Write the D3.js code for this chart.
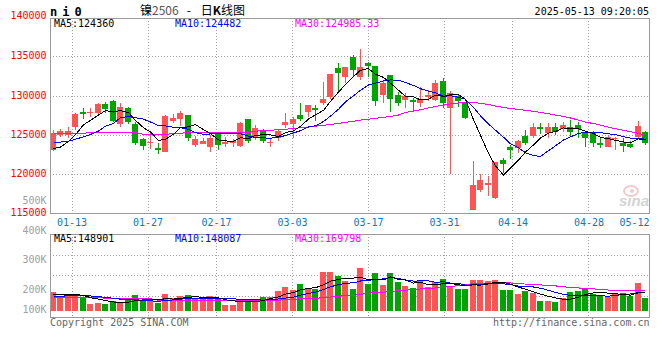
<!DOCTYPE html>
<html>
<head>
<meta charset="utf-8">
<script src="https://cdn.jsdelivr.net/npm/d3@7"></script>
<style>
body { margin: 0; background: #fff; }
text { font-family: "DejaVu Sans Mono", monospace; font-size: 10px; }
</style>
</head>
<body>
<div id="chart"></div>
<script>
var dates = ["01-08","01-09","01-10","01-13","01-14","01-15","01-16","01-17","01-20","01-21",
  "01-22","01-23","01-24","01-27","02-05","02-06","02-07","02-10","02-11","02-12",
  "02-13","02-14","02-17","02-18","02-19","02-20","02-21","02-24","02-25","02-26",
  "02-27","02-28","03-03","03-04","03-05","03-06","03-07","03-10","03-11","03-12",
  "03-13","03-14","03-17","03-18","03-19","03-20","03-21","03-24","03-25","03-26",
  "03-27","03-28","03-31","04-01","04-02","04-03","04-07","04-08","04-09","04-10",
  "04-11","04-14","04-15","04-16","04-17","04-18","04-21","04-22","04-23","04-24",
  "04-25","04-28","04-29","04-30","05-06","05-07","05-08","05-09","05-12","05-13"];

var open = [123100,125000,125000,126100,127930,127800,127800,128990,129410,126470,
  128520,126430,124550,123960,123400,122880,126810,127110,127580,123780,
  123870,123520,125150,123930,123960,123650,127070,124600,125660,123960,
  124600,126300,126390,127580,127970,128520,129080,129900,133560,132480,
  134940,132480,134200,133850,130140,132660,130140,129440,129500,129160,
  129890,129500,131970,128530,130010,129080,115420,117980,118620,116920,
  121820,123450,123320,124890,124890,126090,125320,126000,125750,126090,
  126300,125240,125440,123960,123530,124470,123960,123870,124730,125440];
var high = [125660,125790,126000,127800,128440,128440,129160,129210,129500,129100,
  128640,126650,124640,125240,123960,127600,127670,128090,127600,124900,
  124600,125020,125440,124800,124510,126720,127100,126300,125790,124550,
  125790,127880,127370,129100,128900,128860,131800,132800,134200,133700,
  135260,136030,134400,133850,131930,132700,130560,130360,129720,131130,
  130780,132060,132350,130650,130100,129280,121700,119990,119780,121530,
  122040,123740,124380,125660,126520,126520,126520,126520,126730,126940,
  126730,125440,125570,124800,125020,124720,124600,124300,126850,125500];
var low = [122980,124730,124640,125660,127070,127370,127700,127880,126700,126000,
  126400,123780,123100,123230,122550,122800,126600,126180,124290,123530,
  123830,122880,123100,123530,123450,123530,123960,124380,123960,123450,
  124290,125960,124700,126780,127370,126850,128860,129650,130650,131640,
  132480,132060,132480,128730,129080,127970,128780,128440,128090,128650,
  129410,129400,128440,119990,128650,127030,115420,117760,117210,116800,
  120110,121950,122680,123740,124600,125150,124630,125020,125440,124800,
  124600,123530,123530,123320,123450,123100,122880,123320,124600,123740];
var close = [125240,125530,125530,127710,127670,128000,128990,128350,126810,128600,
  126720,124000,123650,124120,123140,127490,127230,127800,124700,124550,
  124290,124640,123800,124090,124210,126600,124250,125880,124290,124170,
  125570,126730,127070,127070,128860,128260,129630,132800,133000,133700,
  133280,133700,133890,129410,131640,129630,129160,129950,129210,129590,
  130100,131720,129160,130430,129410,127240,118620,119260,118840,121530,
  121270,123100,124290,124040,126090,125750,126090,125440,126300,125440,
  125750,124600,124040,123740,124720,124600,123610,123530,126170,124040];

var volume = [157000,121000,121000,138000,110000,58000,66000,55000,82000,72000,
  88000,129000,88000,88000,66000,138000,110000,121000,129000,96000,
  96000,121000,102000,47000,47000,88000,88000,102000,115000,115000,
  165000,198000,171000,220000,185000,185000,321000,321000,286000,245000,
  185000,354000,220000,313000,212000,313000,236000,204000,187000,253000,
  195000,236000,261000,204000,179000,179000,252000,254000,251000,255000,
  171000,171000,138000,162000,146000,80000,80000,72000,105000,154000,
  162000,190000,138000,129000,113000,146000,146000,121000,228000,105000];

// sessions just before the first visible day (for the short moving averages)
var priorClose = [125200,124500,125100,124600,124970,124630,121980,123410,121270];
var priorVolume = [100000,110000,95000,108000,107000,120000,125000,150000,138000];

var ma30 = [125240,125240,125240,125240,125240,125370,125370,125370,125370,125370,
  125370,125370,125100,125100,125100,125100,125240,125240,125370,125370,
  125370,125400,125400,125400,125400,125340,125340,125520,125580,125640,
  125700,125770,125850,125950,126050,126160,126260,126380,126500,126650,
  126780,126930,127050,127170,127280,127400,127580,127900,128090,128260,
  128480,128670,128860,128990,129120,129180,129180,129080,128930,128730,
  128540,128410,128290,128180,128060,127900,127750,127580,127390,127200,
  126940,126680,126490,126300,126040,125830,125620,125440,125240,124985];
var volMa30 = [115000,115000,115000,115000,115000,115000,115000,102000,102000,102000,
  102000,102000,102000,102000,88000,88000,88000,88000,88000,88000,
  88000,88000,88000,88000,88000,88000,88000,88000,88000,88000,
  88000,96000,96000,102000,102000,102000,115000,115000,121000,129000,
  129000,138000,146000,155000,155000,162000,167000,172000,176000,182000,
  186000,190000,196000,202000,210000,218000,226000,228000,229000,230000,
  231000,231000,226000,222000,218000,215000,212000,207000,200000,194000,
  190000,186000,182000,178000,173000,170000,168000,166000,168000,170000];

var priceTicks = [140000,135000,130000,125000,120000,115000];
var priceGrid = [135000,130000,125000,120000];
var volTicks = [500000,400000,300000,200000,100000];
var volTickLabels = ["500K","400K","300K","200K","100K"];
var dateTicks = ["01-13","01-27","02-17","03-03","03-17","03-31","04-14","04-28","05-12"];
var priceLegend = ["MA5:124360","MA10:124482","MA30:124985.33"];
var volLegend = ["MA5:148901","MA10:148087","MA30:169798"];
var maColors = ["#000000","#0000ff","#ff00ff"];

var RED = "#ff5454", GREEN = "#00a400", GRID = "#a0a0a0", BORDER = "#999999";

var svg = d3.select("#chart").append("svg").attr("width", 660).attr("height", 360),
    left = 50, right = 649;

var x = d3.scaleBand().domain(dates).range([49, 649]);
var xt = d3.scalePoint().domain(dates).range([49.2, 649.8]);
var y = d3.scaleLinear().domain([115000, 140000]).range([213.5, 17.8]);
var vy = d3.scaleLinear().domain([0, 630000]).range([311, 234.6]);
var vLabel = d3.scaleLinear().domain([100000, 200000, 500000]).range([313, 293, 204]);

function cx(d) { return Math.round(x(d) + x.bandwidth() / 2); }
function px(v) { return Math.floor(v) + 0.5; }

function movingAvg(values, prior, n) {
  var all = prior.concat(values);
  return values.map(function(v, i) {
    var j = i + prior.length;
    return d3.mean(all.slice(j - n + 1, j + 1));
  });
}
var ma5 = movingAvg(close, priorClose, 5),
    ma10 = movingAvg(close, priorClose, 10),
    vma5 = movingAvg(volume, priorVolume, 5),
    vma10 = movingAvg(volume, priorVolume, 10);

var data = dates.map(function(d, i) {
  return {date: d, o: open[i], h: high[i], l: low[i], c: close[i], v: volume[i]};
});
function col(d) { return d.c >= d.o ? RED : GREEN; }

// ---- grids
var grid = svg.append("g").attr("stroke", GRID).attr("stroke-dasharray", "1,2")
    .attr("shape-rendering", "crispEdges");
grid.selectAll(".hp").data(priceGrid).enter().append("line")
    .attr("x1", left).attr("x2", right)
    .attr("y1", function(d) { return px(y(d)); })
    .attr("y2", function(d) { return px(y(d)); });
grid.selectAll(".hv").data([255, 275, 296]).enter().append("line")
    .attr("x1", left).attr("x2", right)
    .attr("y1", function(d) { return d + 0.5; })
    .attr("y2", function(d) { return d + 0.5; });
var vgrid = dateTicks.slice(0, -1);
grid.selectAll(".vp").data(vgrid).enter().append("line")
    .attr("x1", function(d) { return px(xt(d)); })
    .attr("x2", function(d) { return px(xt(d)); })
    .attr("y1", 18).attr("y2", 213);
grid.selectAll(".vv").data(vgrid).enter().append("line")
    .attr("x1", function(d) { return px(xt(d)); })
    .attr("x2", function(d) { return px(xt(d)); })
    .attr("y1", 234).attr("y2", 317);

// ---- candles
var cg = svg.append("g").attr("shape-rendering", "crispEdges");
cg.selectAll(".wick").data(data).enter().append("rect")
    .attr("x", function(d) { return cx(d.date); })
    .attr("width", 1)
    .attr("y", function(d) { return Math.round(y(d.h)); })
    .attr("height", function(d) { return Math.max(1, Math.round(y(d.l)) - Math.round(y(d.h))); })
    .attr("fill", col);
cg.selectAll(".body").data(data).enter().append("rect")
    .attr("x", function(d) { return cx(d.date) - 3; })
    .attr("width", 6)
    .attr("y", function(d) { return Math.round(y(Math.max(d.o, d.c))); })
    .attr("height", function(d) {
      return Math.max(1, Math.round(y(Math.min(d.o, d.c))) - Math.round(y(Math.max(d.o, d.c))));
    })
    .attr("fill", col);

// ---- volume bars
cg.selectAll(".vol").data(data).enter().append("rect")
    .attr("x", function(d) { return cx(d.date) - 3; })
    .attr("width", 6)
    .attr("y", function(d) { return Math.round(vy(d.v)); })
    .attr("height", function(d) { return 311 - Math.round(vy(d.v)); })
    .attr("fill", col);

// ---- moving average lines
function drawLine(values, scale, color) {
  var line = d3.line()
      .x(function(d, i) { return cx(dates[i]) + 0.5; })
      .y(function(d) { return scale(d); });
  svg.append("path").datum(values)
      .attr("d", line)
      .attr("fill", "none")
      .attr("stroke", color)
      .attr("stroke-width", 1)
      .attr("shape-rendering", "crispEdges");
}
drawLine(ma30, y, maColors[2]);
drawLine(ma10, y, maColors[1]);
drawLine(ma5, y, maColors[0]);
drawLine(volMa30, vy, maColors[2]);
drawLine(vma10, vy, maColors[1]);
drawLine(vma5, vy, maColors[0]);

// ---- panel borders
svg.append("rect").attr("x", 50.5).attr("y", 18.5).attr("width", 599).attr("height", 195)
    .attr("fill", "none").attr("stroke", BORDER).attr("shape-rendering", "crispEdges");
svg.append("rect").attr("x", 50.5).attr("y", 234.5).attr("width", 599).attr("height", 83)
    .attr("fill", "none").attr("stroke", BORDER).attr("shape-rendering", "crispEdges");

// ---- sina watermark
var wm = svg.append("g").attr("opacity", 0.55);
wm.append("ellipse").attr("cx", 631).attr("cy", 191).attr("rx", 7).attr("ry", 5)
    .attr("fill", "none").attr("stroke", "#e8a0a0").attr("stroke-width", 2);
wm.append("circle").attr("cx", 632).attr("cy", 191).attr("r", 2).attr("fill", "#e8a0a0");
wm.append("text").attr("x", 619).attr("y", 206)
    .style("font-family", "Arial, 'Liberation Sans', sans-serif")
    .style("font-size", "15px").style("font-weight", "bold").style("font-style", "italic")
    .attr("fill", "#b0b0b0").text("sina");

// ---- axis labels
svg.append("g").selectAll("text").data(priceTicks).enter().append("text")
    .attr("x", 46.5).attr("y", function(d, i) { return y(d) + (i === 0 ? 1 : 2.5); })
    .attr("text-anchor", "end").attr("fill", "#ff0000")
    .text(function(d) { return d; });
svg.append("g").selectAll("text").data(volTicks).enter().append("text")
    .attr("x", 46.5).attr("y", function(d) { return vLabel(d); })
    .attr("text-anchor", "end").attr("fill", "#a0a0a0")
    .text(function(d, i) { return volTickLabels[i]; });
svg.append("g").selectAll("text").data(dateTicks).enter().append("text")
    .attr("x", function(d, i) { return i === dateTicks.length - 1 ? 649.5 : xt(d); })
    .attr("y", 225.5)
    .attr("text-anchor", function(d, i) { return i === dateTicks.length - 1 ? "end" : "middle"; })
    .attr("fill", "#0a78d0")
    .text(function(d) { return d; });

// ---- legends
var legX = [54, 175, 295];
svg.append("g").selectAll("text").data(priceLegend).enter().append("text")
    .attr("x", function(d, i) { return legX[i]; }).attr("y", 27)
    .attr("fill", function(d, i) { return maColors[i]; })
    .text(function(d) { return d; });
svg.append("g").selectAll("text").data(volLegend).enter().append("text")
    .attr("x", function(d, i) { return legX[i]; }).attr("y", 242)
    .attr("fill", function(d, i) { return maColors[i]; })
    .text(function(d) { return d; });

// ---- header / footer
svg.append("text").attr("x", 50).attr("y", 16)
    .style("font-size", "12px").style("font-weight", "bold").style("letter-spacing", "5px")
    .text("ni0");
var title = svg.append("text").attr("x", 140).attr("y", 15)
    .style("font-family", "'Noto Sans CJK SC', sans-serif").style("font-size", "12px");
title.append("tspan").text("镍");
title.append("tspan").attr("fill", "#555").text("2506");
title.append("tspan").attr("dx", 8).text("-");
title.append("tspan").attr("dx", 10).text("日");
title.append("tspan").style("font-weight", "bold").text("K");
title.append("tspan").text("线图");
svg.append("text").attr("x", 649).attr("y", 15).attr("text-anchor", "end")
    .text("2025-05-13 09:20:05");
svg.append("text").attr("x", 50).attr("y", 326).attr("fill", "#666")
    .text("Copyright 2025 SINA.COM");
svg.append("text").attr("x", 649.5).attr("y", 326).attr("text-anchor", "end").attr("fill", "#666")
    .text("http://finance.sina.com.cn");
</script>
</body>
</html>
